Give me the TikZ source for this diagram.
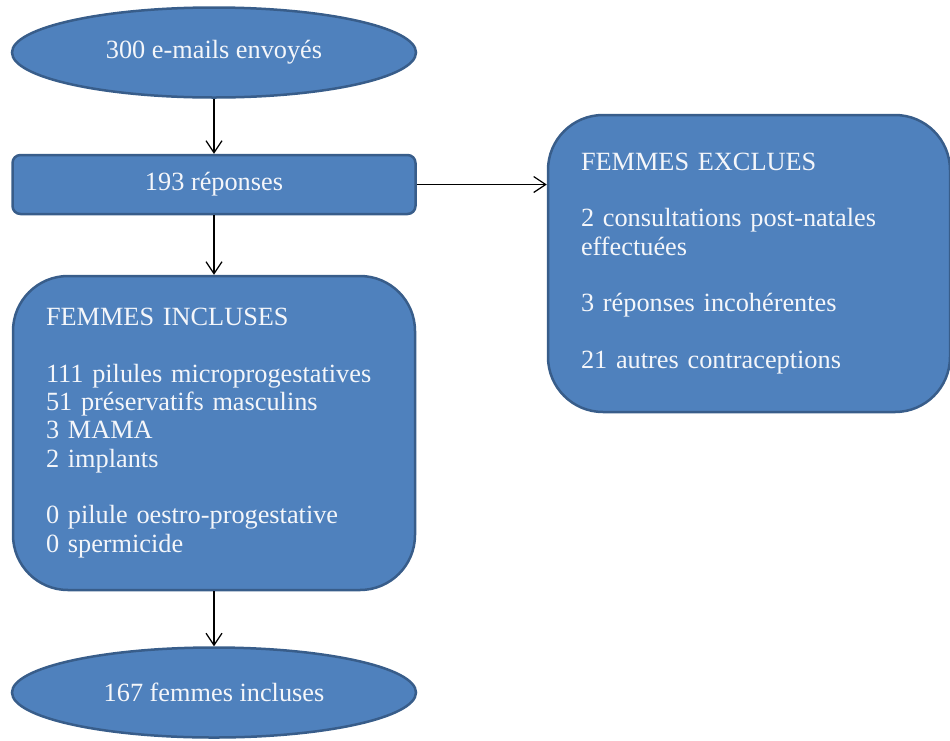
\documentclass[tikz,border=0pt]{standalone}
\usepackage{fontspec}
\setmainfont{Liberation Serif}
\usetikzlibrary{shapes.geometric,arrows.meta}
\definecolor{boxfill}{HTML}{4F81BD}
\definecolor{boxdraw}{HTML}{385D8A}
\definecolor{txt}{HTML}{F4F6FA}
\begin{document}
\begin{tikzpicture}[x=1pt,y=-1pt,
  base/.style={fill=boxfill,draw=boxdraw,line width=2.5pt,text=txt,
    font=\fontsize{26.3}{28.3}\selectfont,inner sep=0pt},
  oval/.style={base,ellipse,minimum width=404pt,minimum height=90pt},
  bar/.style={base,rectangle,rounded corners=8pt,minimum width=403pt,minimum height=59pt},
  bigbox/.style={base,rectangle,rounded corners=55pt,align=left,inner xsep=33pt,text width=336pt},
  link/.style={-{Straight Barb[length=12pt,width=16pt]},line width=1.2pt,black}]
\useasboundingbox (0,0) rectangle (950,740);

\node[oval] (mails) at (214,52.5) {300 e-mails envoyés};
\node[bar] (rep) at (214,184.5) {193 réponses};
\node[bigbox,minimum height=314pt] (incl) at (214,433) {FEMMES INCLUSES\\[28.3pt]
111 pilules microprogestatives\\
51 préservatifs masculins\\
3 MAMA\\
2 implants\\[28.3pt]
0 pilule oestro-progestative\\
0 spermicide};
\node[oval] (fin) at (214,692.5) {167 femmes incluses};
\node[bigbox,minimum height=297pt] (excl) at (749,263.5) {FEMMES EXCLUES\\[28.3pt]
2 consultations post-natales\\
effectuées\\[28.3pt]
3 réponses incohérentes\\[28.3pt]
21 autres contraceptions};

\draw[link] (mails.south) -- (rep.north);
\draw[link] (rep.south) -- (incl.north);
\draw[link] (incl.south) -- (fin.north);
\draw[link] (rep.east) -- (rep.east -| excl.west);
\end{tikzpicture}
\end{document}
